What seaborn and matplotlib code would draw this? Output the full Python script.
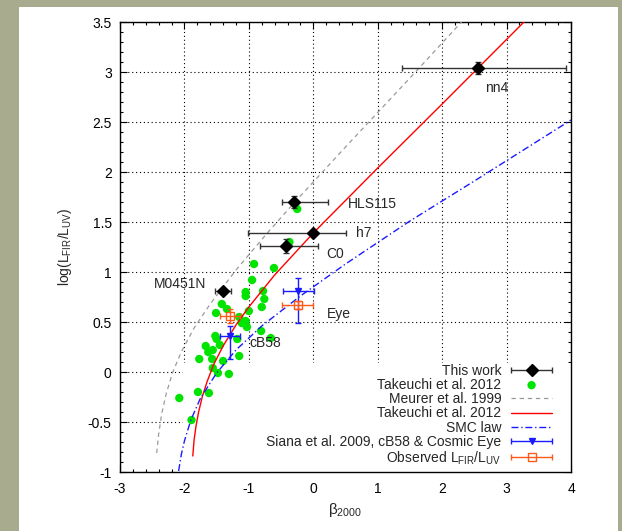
import pandas as pd
import seaborn as sns
import matplotlib.pyplot as plt
from matplotlib.ticker import MultipleLocator
from matplotlib.patches import Rectangle
from matplotlib.container import ErrorbarContainer
from matplotlib.legend_handler import HandlerErrorbar

# --- This work (black diamonds) ---
work_names = ['nn4', 'HLS115', 'h7', 'C0', 'M0451N']
work_beta = [2.55, -0.30, 0.00, -0.42, -1.40]
work_irx = [3.04, 1.70, 1.39, 1.26, 0.81]
work_beta_lo = [1.17, 0.19, 1.02, 0.40, 0.13]
work_beta_hi = [1.37, 0.53, 0.50, 0.50, 0.12]
work_irx_err = [0.06, 0.06, 0.02, 0.07, 0.02]

# name labels next to the points
label_names = ['nn4', 'HLS115', 'h7', 'C0', 'M0451N', 'Eye', 'cB58']
label_x = [2.84, 0.91, 0.79, 0.34, -2.07, 0.39, -0.74]
label_y = [2.84, 1.68, 1.39, 1.18, 0.88, 0.58, 0.29]

# --- Takeuchi et al. 2012 galaxies (green dots) ---
tak_beta = [-0.25, -0.37, -0.92, -0.61, -0.95, -1.05, -1.05, -0.78, -0.76, -0.80,
            -1.42, -1.34, -1.51, -1.00, -1.15, -1.05, -1.11, -1.03, -0.81, -0.66,
            -1.52, -1.50, -1.45, -1.18, -1.67, -1.63, -1.56, -1.77, -1.57, -1.40,
            -1.15, -1.56, -1.48, -1.31, -1.79, -1.62, -2.08, -1.89]
tak_irx = [1.63, 1.30, 1.08, 1.04, 0.92, 0.80, 0.76, 0.81, 0.73, 0.65,
           0.68, 0.63, 0.59, 0.61, 0.55, 0.51, 0.49, 0.45, 0.41, 0.34,
           0.36, 0.33, 0.27, 0.33, 0.26, 0.20, 0.22, 0.13, 0.13, 0.11,
           0.16, 0.04, -0.01, -0.02, -0.20, -0.21, -0.26, -0.48]

# --- relations ---
meurer_beta = [-2.43, -2.40, -2.35, -2.28, -2.18, -2.05, -1.85, -1.60, -1.20, -0.70,
               -0.30, 0.50, 1.50, 2.30]
meurer_irx = [-0.81, -0.62, -0.41, -0.21, 0.00, 0.20, 0.44, 0.68, 1.02, 1.40,
              1.69, 2.25, 2.94, 3.50]

takrel_beta = [-1.87, -1.85, -1.82, -1.78, -1.72, -1.65, -1.55, -1.40, -1.20, -1.00,
               -0.60, 0.00, 1.00, 2.00, 3.27]
takrel_irx = [-0.84, -0.68, -0.54, -0.40, -0.24, -0.10, 0.07, 0.26, 0.47, 0.65,
              0.97, 1.39, 2.04, 2.68, 3.50]

smc_beta = [-2.09, -2.05, -2.00, -1.90, -1.75, -1.50, -1.20, -0.80, -0.20, 0.50,
            1.50, 2.50, 4.00]
smc_irx = [-0.99, -0.83, -0.69, -0.48, -0.26, -0.01, 0.22, 0.46, 0.76, 1.08,
           1.51, 1.91, 2.52]

# --- Siana et al. 2009 (cB58, Cosmic Eye) and observed values ---
siana_beta = [-1.29, -0.23]
siana_irx = [0.36, 0.81]
siana_beta_err = [0.16, 0.24]
siana_irx_lo = [0.23, 0.32]
siana_irx_hi = [0.10, 0.13]

obs_beta = [-1.29, -0.24]
obs_irx = [0.56, 0.67]
obs_beta_err = [0.16, 0.24]
obs_irx_err = [0.07, 0.04]

sns.set_style('ticks')
plt.rcParams['font.family'] = ['Liberation Sans', 'DejaVu Sans']
plt.rcParams['mathtext.default'] = 'regular'
plt.rcParams['font.size'] = 10

fig = plt.figure(figsize=(6.22, 5.31), dpi=100, facecolor='#a9ab8f')
fig.patches.append(Rectangle((19 / 622, 0), 599 / 622, 1 - 7 / 531,
                             transform=fig.transFigure, facecolor='white',
                             edgecolor='none', zorder=-5))
ax = fig.add_axes([120 / 622, 59 / 531, 451 / 622, 450 / 531])
ax.set_zorder(1)
ax.set_facecolor('white')

# grid, hidden behind the key area like gnuplot does
ax.set_axisbelow(True)
ax.grid(True, which='major', color='black', linestyle=(0, (1, 2.5)), linewidth=0.8)
ax.add_patch(Rectangle((63 / 451, 0), 388 / 451, 109 / 450, transform=ax.transAxes,
                       facecolor='white', edgecolor='none', zorder=0.8))

# green points
sns.scatterplot(x=tak_beta, y=tak_irx, color='#00e400', s=36, edgecolor='none',
                label='Takeuchi et al. 2012', ax=ax, zorder=2)

# relations
sns.lineplot(x=meurer_beta, y=meurer_irx, sort=False, color='#9a9a9a',
             linestyle=(0, (3.5, 3)), linewidth=0.9, label='Meurer et al. 1999', ax=ax, zorder=3)
sns.lineplot(x=takrel_beta, y=takrel_irx, sort=False, color='#ff0000',
             linewidth=1.0, label='Takeuchi et al. 2012', ax=ax, zorder=3)
sns.lineplot(x=smc_beta, y=smc_irx, sort=False, color='#1a1aff',
             linestyle=(0, (5, 2, 1, 2)), linewidth=1.0, label='SMC law', ax=ax, zorder=3)

# this work
h_work = ax.errorbar(work_beta, work_irx, xerr=[work_beta_lo, work_beta_hi], fmt='D',
                     color='black', ms=6.2, ecolor='#333333', elinewidth=1, capsize=2.5,
                     capthick=1, zorder=4)
ax.errorbar(work_beta, work_irx, yerr=work_irx_err, fmt='none', ecolor='#333333',
            elinewidth=1, capsize=2.5, capthick=1, zorder=4)

# Siana et al.
h_siana = ax.errorbar(siana_beta, siana_irx, xerr=siana_beta_err, fmt='v', color='#1a1aff',
                      ms=4.5, elinewidth=1, capsize=2.5, capthick=1, zorder=5)
ax.errorbar(siana_beta, siana_irx, yerr=[siana_irx_lo, siana_irx_hi], fmt='none',
            ecolor='#1a1aff', elinewidth=1, capsize=2.5, capthick=1, zorder=5)

# observed
h_obs = ax.errorbar(obs_beta, obs_irx, xerr=obs_beta_err, fmt='s', color='#ff5a1a',
                    mfc='none', mew=1, ms=6, elinewidth=1, capsize=2.5, capthick=1, zorder=5)
ax.errorbar(obs_beta, obs_irx, yerr=obs_irx_err, fmt='none', ecolor='#ff5a1a',
            elinewidth=1, capsize=2.5, capthick=1, zorder=5)

for name, lx, ly in zip(label_names, label_x, label_y):
    ax.text(lx, ly, name, ha='center', va='center', fontsize=10, zorder=6)

ax.set_xlim(-3, 4)
ax.set_ylim(-1, 3.5)
ax.xaxis.set_major_locator(MultipleLocator(1))
ax.xaxis.set_minor_locator(MultipleLocator(0.2))
ax.yaxis.set_major_locator(MultipleLocator(0.5))
ax.yaxis.set_minor_locator(MultipleLocator(0.1))
ax.set_xticklabels([f'{v:g}' for v in ax.get_xticks()])
ax.set_yticklabels([f'{v:g}' for v in ax.get_yticks()])
ax.tick_params(which='both', direction='in', top=True, right=True, colors='black')
ax.tick_params(which='major', length=5, width=0.8)
ax.tick_params(which='minor', length=2.5, width=0.8)
ax.tick_params(axis='x', pad=7)
ax.tick_params(axis='y', pad=6)
for sp in ax.spines.values():
    sp.set_color('black')
    sp.set_linewidth(1)

ax.set_xlabel('β$_{2000}$', fontsize=11, labelpad=4)
ax.set_ylabel('log(L$_{FIR}$/L$_{UV}$)', fontsize=10, labelpad=10)

handles, labels = ax.get_legend_handles_labels()
order_handles = [h_work, handles[0], handles[1], handles[2], handles[3], h_siana, h_obs]
order_labels = ['This work', 'Takeuchi et al. 2012', 'Meurer et al. 1999',
                'Takeuchi et al. 2012', 'SMC law', 'Siana et al. 2009, cB58 & Cosmic Eye',
                'Observed L$_{FIR}$/L$_{UV}$']
ax.legend(order_handles, order_labels, loc='lower right', bbox_to_anchor=(0.958, 0.012),
          frameon=False, markerfirst=False, handlelength=2.95, handletextpad=0.7,
          labelspacing=0.02, borderpad=0, borderaxespad=0, fontsize=10,
          handler_map={ErrorbarContainer: HandlerErrorbar(xerr_size=1.45)})

fig.savefig('out.png', dpi=100, facecolor=fig.get_facecolor())
